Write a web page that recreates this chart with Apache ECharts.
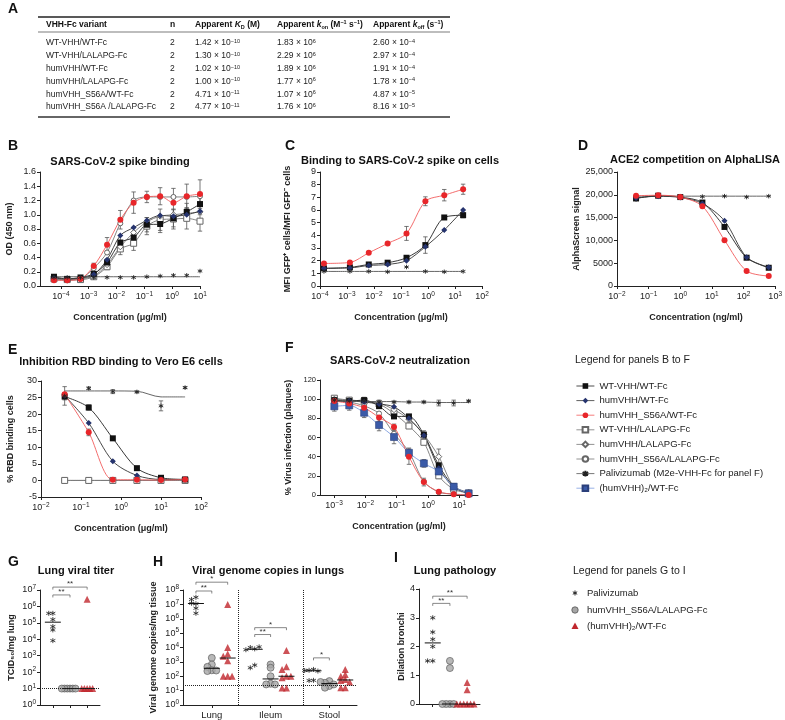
<!DOCTYPE html>
<html>
<head>
<meta charset="utf-8">
<script src="https://cdn.jsdelivr.net/npm/echarts@6/dist/echarts.min.js"></script>
<style>
html,body{margin:0;padding:0;background:#fff}
#main{width:785px;height:720px}
</style>
</head>
<body>
<div id="main"></div>
<script>
//===== A: 动力学表格 =====
var tblVariant = ['WT-VHH/WT-Fc', 'WT-VHH/LALAPG-Fc', 'humVHH/WT-Fc', 'humVHH/LALAPG-Fc', 'humVHH_S56A/WT-Fc', 'humVHH_S56A /LALAPG-Fc'];
var tblN = [2, 2, 2, 2, 2, 2];
var tblKd = [1.42e-10, 1.30e-10, 1.02e-10, 1.00e-10, 4.71e-11, 4.77e-11];
var tblKon = [1.83e6, 2.29e6, 1.89e6, 1.77e6, 1.07e6, 1.76e6];
var tblKoff = [2.60e-4, 2.97e-4, 1.91e-4, 1.78e-4, 4.87e-5, 8.16e-5];

//===== B: spike binding (OD) =====
var concB = [0.0000565, 0.000169, 0.000508, 0.00152, 0.00457, 0.0137, 0.0412, 0.123, 0.37, 1.11, 3.33, 10];
var bWtWt = [0.13, 0.10, 0.12, 0.17, 0.33, 0.61, 0.68, 0.86, 0.87, 0.95, 1.04, 1.15];
var bHumWt = [0.11, 0.10, 0.11, 0.16, 0.37, 0.71, 0.82, 0.92, 0.99, 0.98, 1.00, 1.05];
var bS56aWt = [0.08, 0.08, 0.10, 0.28, 0.58, 0.93, 1.17, 1.25, 1.26, 1.17, 1.26, 1.29];
var bWtLal = [0.10, 0.09, 0.09, 0.13, 0.27, 0.52, 0.60, 0.84, 0.93, 0.94, 0.95, 0.91];
var bHumLal = [0.10, 0.09, 0.10, 0.14, 0.30, 0.55, 0.75, 0.90, 0.98, 1.00, 1.02, 1.04];
var bS56aLal = [0.09, 0.08, 0.10, 0.25, 0.47, 0.88, 1.20, 1.25, 1.25, 1.25, 1.25, 1.26];
var bPali = [0.12, 0.12, 0.12, 0.12, 0.12, 0.12, 0.12, 0.13, 0.14, 0.15, 0.15, 0.21];
var bPaliFit = [0.13, 0.13, 0.13, 0.13, 0.13, 0.13, 0.13, 0.13, 0.13, 0.13, 0.13, 0.13];
var bErrS56a = [0.01, 0.01, 0.02, 0.04, 0.10, 0.13, 0.15, 0.08, 0.12, 0.20, 0.17, 0.20];
var bErrWtWt = [0.01, 0.01, 0.02, 0.03, 0.05, 0.10, 0.08, 0.10, 0.12, 0.12, 0.12, 0.15];
var bErrWtLal = [0.01, 0.01, 0.02, 0.03, 0.04, 0.08, 0.10, 0.12, 0.15, 0.14, 0.15, 0.14];

//===== C: binding on cells =====
var concC = [0.00014, 0.00128, 0.0064, 0.032, 0.16, 0.8, 4, 20];
var cWtWt = [1.39, 1.47, 1.70, 1.84, 2.23, 3.23, 5.41, 5.59];
var cHumWt = [1.40, 1.43, 1.62, 1.70, 2.00, 3.10, 4.42, 6.00];
var cS56aWt = [1.78, 1.86, 2.62, 3.36, 4.15, 6.69, 7.17, 7.64];
var cPali = [1.15, 1.15, 1.15, 1.12, 1.50, 1.15, 1.12, 1.15];
var cPaliFit = [1.15, 1.15, 1.15, 1.15, 1.15, 1.15, 1.15, 1.15];
var cErrS56a = [0.08, 0.06, 0.08, 0.08, 0.55, 0.35, 0.45, 0.40];
var cErrWtWt = [0.05, 0.05, 0.06, 0.06, 0.10, 0.65, 0.10, 0.20];

//===== D: ACE2 competition =====
var concD = [0.04, 0.2, 1, 5, 25, 125, 625];
var dWtWt = [19200, 19800, 19500, 18300, 12950, 6200, 4000];
var dHumWt = [19300, 19700, 19400, 18100, 14300, 6300, 4100];
var dS56aWt = [19800, 19900, 19500, 17500, 10050, 3280, 2190];
var dPali = [19000, 19600, 19700, 19600, 19700, 19500, 19700];
var dPaliFit = [19700, 19700, 19700, 19700, 19700, 19700, 19700];

//===== E: RBD binding to Vero E6 =====
var concE = [0.039, 0.156, 0.625, 2.5, 10, 40];
var eWtWt = [25.3, 22.0, 12.7, 3.7, 0.8, 0.3];
var eHumWt = [25.6, 17.3, 5.8, 1.5, 0.3, 0.3];
var eS56aWt = [26.0, 14.5, 0.2, 0.2, 0.1, 0.3];
var eWtLal = [0, 0, 0, 0, 0, 0];
var eS56aLal = [0, 0, 0, 0, 0, 0];
var ePali = [25.5, 27.8, 26.8, 26.7, 22.5, 28.0];
var ePaliFit = [27, 27, 27, 26.9, 25.2, 25.2];
var eErrPali = [2.8, 0.4, 0.6, 0.3, 1.5, 0.3];
var eErrWtWt = [1.0, 0.8, 0.4, 0.3, 0.2, 0.2];
var eErrS56a = [0.5, 1.0, 0.1, 0.1, 0.1, 0.1];

//===== F: neutralization =====
var concF = [0.00102, 0.00305, 0.00914, 0.0274, 0.0823, 0.247, 0.741, 2.22, 6.67, 20];
var fWtWt = [99, 98, 99, 92.7, 82, 82, 63, 31, 9, 1.5];
var fHumWt = [98, 98, 97, 95, 92, 80, 62, 28, 8, 2];
var fS56aWt = [98, 95.5, 91, 81, 71, 40, 13.5, 3.5, 0.7, 0];
var fWtLal = [101, 99, 98, 95, 85, 72, 55, 20, 6, 2];
var fHumLal = [100, 99, 98, 96, 89, 79, 63, 40, 9, 3];
var fS56aLal = [98, 97, 93, 85, 64, 45, 14, 3, 1, 0];
var fPali = [99, 98, 98, 97, 97, 97, 97, 96, 96, 98];
var fPaliFit = [98, 98, 97.5, 97.5, 97.5, 97, 97, 96.5, 96.5, 96.5];
var fHum2 = [92.5, 93.5, 85.8, 73, 60.5, 44, 33, 24.5, 8.7, 1.7];
var fErrS56a = [3, 3, 4, 4, 3, 8, 4, 1, 1, 0.5];
var fErrHum2 = [5, 5, 5, 6, 7, 5, 4, 5, 3, 1];
var fErrHumLal = [2, 2, 4, 3, 3, 3, 4, 8, 3, 1];
var fErrPali = [1, 1, 1, 1, 1, 1, 1, 3, 3, 1];

//===== G: lung viral titer =====
var gPali = [380000, 380000, 160000, 60000, 37000, 8300];
var gS56aLal = [10, 10, 10, 10, 10, 10];
var gHum2 = [2700000, 10, 10, 10, 10, 10];
var gLod = 10;

//===== H: viral genome copies =====
var tissues = ['Lung', 'Ileum', 'Stool'];
var hLungPali = [3.1e7, 2.2e7, 1.1e7, 1.2e7, 5.4e6, 2.4e6];
var hLungS56aLal = [1900, 660, 450, 260, 230, 250];
var hLungHum2 = [1e7, 1e4, 3500, 2500, 1200, 100, 100, 100];
var hIleumPali = [8000, 10000, 11000, 7000, 590, 390];
var hIleumS56aLal = [660, 390, 100, 30, 27, 27];
var hIleumHum2 = [6300, 450, 300, 100, 80, 100, 15, 15];
var hStoolPali = [300, 260, 230, 250, 52, 50];
var hStoolS56aLal = [46, 35, 21, 16, 27, 40];
var hStoolHum2 = [300, 130, 100, 60, 50, 40, 16, 16];
var hLod = 25;

//===== I: lung pathology =====
var iPali = [3, 2.5, 2.25, 2, 1.5, 1.5];
var iS56aLal = [1.5, 1.25, 0, 0, 0, 0];
var iHum2 = [0.75, 0.5, 0, 0, 0, 0, 0, 0];

var FONT = '"Liberation Sans", Arial, Helvetica, sans-serif';
var STAR = 'path://M5,0L5,10M0.67,2.5L9.33,7.5M0.67,7.5L9.33,2.5';

var NAMES = {
	wtwt: 'WT-VHH/WT-Fc',
	humwt: 'humVHH/WT-Fc',
	s56awt: 'humVHH_S56A/WT-Fc',
	wtlal: 'WT-VHH/LALAPG-Fc',
	humlal: 'humVHH/LALAPG-Fc',
	s56alal: 'humVHH_S56A/LALAPG-Fc',
	pali: 'Palivizumab (M2e-VHH-Fc for panel F)',
	hum2: '(humVHH)₂/WT-Fc'
};
var ST = {
	wtwt: {symbol: 'rect', size: 6, fill: '#111', border: '#111', bw: 0, line: '#222'},
	humwt: {symbol: 'diamond', size: 6, fill: '#26346e', border: '#26346e', bw: 0, line: '#333'},
	s56awt: {symbol: 'circle', size: 6, fill: '#e8262a', border: '#e8262a', bw: 0, line: '#f25c5c'},
	wtlal: {symbol: 'rect', size: 6, fill: '#fff', border: '#666', bw: 1, line: '#777'},
	humlal: {symbol: 'diamond', size: 6, fill: '#fff', border: '#666', bw: 1, line: '#777'},
	s56alal: {symbol: 'circle', size: 5, fill: '#fff', border: '#666', bw: 1, line: '#777'},
	pali: {symbol: STAR, size: 4.5, fill: '#222', border: '#222', bw: 0.9, line: '#555'},
	hum2: {symbol: 'rect', size: 7, fill: '#3a5aa8', border: '#2a3f7a', bw: 0.6, line: '#7e9ddf'}
};

function pow10(n) {
	return '{b|10}{s|' + (n < 0 ? '−' + (-n) : n) + '}';
}
var powRich = {
	b: {fontSize: 9, lineHeight: 12, color: '#222', fontFamily: FONT},
	s: {fontSize: 6.5, lineHeight: 7, verticalAlign: 'top', color: '#222', fontFamily: FONT}
};

//曲线 + 点
function lineSeries(gi, key, conc, vals, hideLine) {
	var st = ST[key];
	return {
		type: 'line', name: NAMES[key], xAxisIndex: gi, yAxisIndex: gi,
		data: conc.map(function (c, i) { return [Math.log10(c), vals[i]]; }),
		smooth: 0.3, showAllSymbol: true, symbol: st.symbol, symbolSize: st.size,
		lineStyle: {color: st.line, width: 0.9, opacity: hideLine ? 0 : 1},
		itemStyle: {color: st.fill, borderColor: st.border, borderWidth: st.bw},
		silent: true
	};
}
function fitLine(gi, conc, vals, color) {
	return {
		type: 'line', xAxisIndex: gi, yAxisIndex: gi, symbol: 'none', silent: true,
		data: conc.map(function (c, i) { return [Math.log10(c), vals[i]]; }),
		smooth: 0.3, lineStyle: {color: color, width: 0.9}
	};
}
//误差线
function errSeries(gi, conc, vals, errs) {
	return {
		type: 'custom', xAxisIndex: gi, yAxisIndex: gi, silent: true, z: 1,
		encode: {x: 0, y: [1, 2]},
		data: conc.map(function (c, i) { return [Math.log10(c), vals[i] - errs[i], vals[i] + errs[i]]; }),
		renderItem: function (params, api) {
			var top = api.coord([api.value(0), api.value(2)]);
			var bot = api.coord([api.value(0), api.value(1)]);
			var w = 2.2, st = {stroke: '#555', lineWidth: 0.8};
			return {type: 'group', children: [
				{type: 'line', shape: {x1: top[0], y1: top[1], x2: bot[0], y2: bot[1]}, style: st},
				{type: 'line', shape: {x1: top[0] - w, y1: top[1], x2: top[0] + w, y2: top[1]}, style: st},
				{type: 'line', shape: {x1: bot[0] - w, y1: bot[1], x2: bot[0] + w, y2: bot[1]}, style: st}
			]};
		}
	};
}

//散点抖动(简单蜂群)
function swarm(vals, center, step, tol, isLog) {
	var placed = [];
	return vals.map(function (v) {
		var key = isLog ? Math.log10(v) : v;
		var k = placed.filter(function (p) { return Math.abs(p - key) < tol; }).length;
		placed.push(key);
		var off = k === 0 ? 0 : (k % 2 ? -1 : 1) * Math.ceil(k / 2);
		return [center + off * step, v];
	});
}
function median(vals) {
	var s = vals.slice().sort(function (a, b) { return a - b; });
	var m = Math.floor(s.length / 2);
	return s.length % 2 ? s[m] : (s[m - 1] + s[m]) / 2;
}
var DOT = {
	pali: {symbol: STAR, symbolSize: 5, itemStyle: {color: '#222', borderColor: '#222', borderWidth: 1}},
	s56alal: {symbol: 'circle', symbolSize: 7, itemStyle: {color: '#a6a6a6', borderColor: '#555', borderWidth: 0.8}},
	hum2: {symbol: 'triangle', symbolSize: 7, itemStyle: {color: '#c0272d'}}
};
function dotSeries(gi, name, kind, pts) {
	var d = DOT[kind];
	return {type: 'scatter', name: name, xAxisIndex: gi, yAxisIndex: gi, silent: true, z: 3,
		symbol: d.symbol, symbolSize: d.symbolSize, itemStyle: d.itemStyle, data: pts};
}
function medSeries(gi, items) {
	return {
		type: 'custom', xAxisIndex: gi, yAxisIndex: gi, silent: true, z: 4,
		encode: {x: 0, y: 1}, data: items,
		renderItem: function (params, api) {
			var p = api.coord([api.value(0), api.value(1)]);
			return {type: 'line', shape: {x1: p[0] - 8, y1: p[1], x2: p[0] + 8, y2: p[1]}, style: {stroke: '#111', lineWidth: 1}};
		}
	};
}
function bracketSeries(gi, items, labels) {
	return {
		type: 'custom', xAxisIndex: gi, yAxisIndex: gi, silent: true, z: 5,
		encode: {x: [0, 1], y: 2}, data: items,
		renderItem: function (params, api) {
			var a = api.coord([api.value(0), api.value(2)]);
			var b = api.coord([api.value(1), api.value(2)]);
			var st = {stroke: '#555', lineWidth: 0.7, fill: null};
			return {type: 'group', children: [
				{type: 'polyline', shape: {points: [[a[0], a[1] + 2.5], [a[0], a[1]], [b[0], b[1]], [b[0], b[1] + 2.5]]}, style: st},
				{type: 'text', x: (a[0] + b[0]) / 2, y: a[1] + 1, style: {text: labels[params.dataIndex], fill: '#333', font: '8px ' + FONT, align: 'center', verticalAlign: 'bottom', textAlign: 'center', textVerticalAlign: 'bottom'}}
			]};
		}
	};
}

//坐标轴
var axisLineSt = {show: true, onZero: false, lineStyle: {color: '#222', width: 1}};
var nameSt = {fontWeight: 'bold', fontSize: 9, color: '#222', fontFamily: FONT};
function concAxis(gi, min, max, ticks, name) {
	return {
		type: 'value', gridIndex: gi, min: min, max: max,
		name: name, nameLocation: 'middle', nameGap: 27, nameTextStyle: nameSt,
		axisLine: axisLineSt,
		axisTick: {show: true, customValues: ticks, length: 3, lineStyle: {color: '#222'}},
		axisLabel: {customValues: ticks, margin: 5, rich: powRich, formatter: function (v) { return pow10(Math.round(v)); }},
		splitLine: {show: false}
	};
}
function valAxis(gi, min, max, interval, name, gap, fmt, fs) {
	return {
		type: 'value', gridIndex: gi, min: min, max: max, interval: interval,
		name: name, nameLocation: 'middle', nameGap: gap, nameTextStyle: nameSt,
		axisLine: axisLineSt,
		axisTick: {show: true, length: 3, lineStyle: {color: '#222'}},
		axisLabel: {fontSize: fs || 9, color: '#222', fontFamily: FONT, margin: 4, formatter: fmt},
		splitLine: {show: false}
	};
}
function logAxis(gi, max, name, gap) {
	return {
		type: 'log', logBase: 10, gridIndex: gi, min: 1, max: max,
		name: name, nameLocation: 'middle', nameGap: gap, nameTextStyle: nameSt,
		axisLine: axisLineSt,
		axisTick: {show: true, length: 3, lineStyle: {color: '#222'}},
		axisLabel: {margin: 4, rich: powRich, formatter: function (v) { return pow10(Math.round(Math.log10(v))); }},
		splitLine: {show: false}
	};
}
function catAxis(gi, min, max, ticks, labels) {
	return {
		type: 'value', gridIndex: gi, min: min, max: max,
		axisLine: axisLineSt,
		axisTick: {show: true, customValues: ticks, length: 3, lineStyle: {color: '#222'}},
		axisLabel: {show: !!labels, customValues: ticks, fontSize: 9.5, color: '#222', fontFamily: FONT, margin: 5,
			formatter: function (v) { return labels ? labels[Math.round(v)] : ''; }},
		splitLine: {show: false}
	};
}

var grids = [
	{left: 40, top: 172, width: 160, height: 114},  // B
	{left: 320, top: 172, width: 162, height: 114}, // C
	{left: 617, top: 172, width: 161, height: 114}, // D
	{left: 41, top: 381, width: 160, height: 116},  // E
	{left: 320, top: 380, width: 158, height: 115}, // F
	{left: 40, top: 590, width: 60, height: 115},   // G
	{left: 183, top: 590, width: 174, height: 115}, // H
	{left: 419, top: 589, width: 61, height: 115}   // I
];

var xAxes = [
	concAxis(0, -4.75, 1, [-4, -3, -2, -1, 0, 1], 'Concentration (μg/ml)'),
	concAxis(1, -4, 2, [-4, -3, -2, -1, 0, 1, 2], 'Concentration (μg/ml)'),
	concAxis(2, -2, 3, [-2, -1, 0, 1, 2, 3], 'Concentration (ng/ml)'),
	concAxis(3, -2, 2, [-2, -1, 0, 1, 2], 'Concentration (μg/ml)'),
	concAxis(4, -3.45, 1.6, [-3, -2, -1, 0, 1], 'Concentration (μg/ml)'),
	catAxis(5, 0.25, 3.75, [1, 2, 3], null),
	catAxis(6, -0.49, 2.47, [0, 1, 2], tissues),
	catAxis(7, 0.2, 3.75, [1, 2, 3], null)
];
var yAxes = [
	valAxis(0, 0, 1.6, 0.2, 'OD (450 nm)', 26, function (v) { return v.toFixed(1); }),
	valAxis(1, 0, 9, 1, 'MFI GFP⁺ cells/MFI GFP⁻ cells', 28),
	valAxis(2, 0, 25000, 5000, 'AlphaScreen signal', 36, function (v) { return v >= 10000 ? String(v).replace(/\B(?=(\d{3})+(?!\d))/g, ',') : v; }),
	valAxis(3, -5, 30, 5, '% RBD binding cells', 26),
	valAxis(4, 0, 120, 20, '% Virus infection (plaques)', 27, null, 7.5),
	logAxis(5, 1e7, 'TCID₅₀/mg lung', 24),
	logAxis(6, 1e8, 'Viral genome copies/mg tissue', 25),
	valAxis(7, 0, 4, 1, 'Dilation bronchi', 13)
];

var series = [];
// B
series.push(
	lineSeries(0, 'wtlal', concB, bWtLal), lineSeries(0, 'humlal', concB, bHumLal), lineSeries(0, 's56alal', concB, bS56aLal),
	lineSeries(0, 'wtwt', concB, bWtWt), lineSeries(0, 'humwt', concB, bHumWt), lineSeries(0, 's56awt', concB, bS56aWt),
	fitLine(0, concB, bPaliFit, ST.pali.line), lineSeries(0, 'pali', concB, bPali, true),
	errSeries(0, concB, bS56aWt, bErrS56a), errSeries(0, concB, bWtWt, bErrWtWt), errSeries(0, concB, bWtLal, bErrWtLal)
);
// C
series.push(
	lineSeries(1, 'wtwt', concC, cWtWt), lineSeries(1, 'humwt', concC, cHumWt), lineSeries(1, 's56awt', concC, cS56aWt),
	fitLine(1, concC, cPaliFit, ST.pali.line), lineSeries(1, 'pali', concC, cPali, true),
	errSeries(1, concC, cS56aWt, cErrS56a), errSeries(1, concC, cWtWt, cErrWtWt)
);
// D
series.push(
	fitLine(2, concD, dPaliFit, ST.pali.line), lineSeries(2, 'pali', concD, dPali, true),
	lineSeries(2, 'wtwt', concD, dWtWt), lineSeries(2, 'humwt', concD, dHumWt), lineSeries(2, 's56awt', concD, dS56aWt)
);
// E
series.push(
	lineSeries(3, 's56alal', concE, eS56aLal), lineSeries(3, 'wtlal', concE, eWtLal),
	lineSeries(3, 'wtwt', concE, eWtWt), lineSeries(3, 'humwt', concE, eHumWt), lineSeries(3, 's56awt', concE, eS56aWt),
	fitLine(3, concE, ePaliFit, ST.pali.line), lineSeries(3, 'pali', concE, ePali, true),
	errSeries(3, concE, ePali, eErrPali), errSeries(3, concE, eWtWt, eErrWtWt), errSeries(3, concE, eS56aWt, eErrS56a)
);
// F
series.push(
	lineSeries(4, 'wtlal', concF, fWtLal), lineSeries(4, 'humlal', concF, fHumLal), lineSeries(4, 's56alal', concF, fS56aLal),
	lineSeries(4, 'wtwt', concF, fWtWt), lineSeries(4, 'humwt', concF, fHumWt), lineSeries(4, 'hum2', concF, fHum2),
	lineSeries(4, 's56awt', concF, fS56aWt),
	fitLine(4, concF, fPaliFit, ST.pali.line), lineSeries(4, 'pali', concF, fPali, true),
	errSeries(4, concF, fS56aWt, fErrS56a), errSeries(4, concF, fHum2, fErrHum2),
	errSeries(4, concF, fHumLal, fErrHumLal), errSeries(4, concF, fPali, fErrPali)
);
// G
var gDots = dotSeries(5, 'Palivizumab', 'pali', swarm(gPali, 1, 0.24, 0.2, true));
gDots.markLine = {silent: true, symbol: 'none', label: {show: false}, lineStyle: {type: 'dotted', color: '#222', width: 1}, data: [{yAxis: gLod}]};
series.push(
	gDots,
	dotSeries(5, 'humVHH_S56A/LALAPG-Fc', 's56alal', swarm(gS56aLal, 2, 0.16, 0.2, true)),
	dotSeries(5, '(humVHH)₂/WT-Fc', 'hum2', swarm(gHum2, 3, 0.16, 0.2, true)),
	medSeries(5, [[1, median(gPali)], [2, median(gS56aLal)], [3, median(gHum2)]]),
	bracketSeries(5, [[1, 2, 5e6], [1, 3, 1.5e7]], ['**', '**'])
);
// H
var hSets = [[hLungPali, hLungS56aLal, hLungHum2], [hIleumPali, hIleumS56aLal, hIleumHum2], [hStoolPali, hStoolS56aLal, hStoolHum2]];
var hKinds = ['pali', 's56alal', 'hum2'];
var hOff = [-0.27, 0, 0.27];
var hMed = [];
hSets.forEach(function (set, t) {
	set.forEach(function (vals, k) {
		var s = dotSeries(6, null, hKinds[k], swarm(vals, t + hOff[k], 0.075, 0.2, true));
		if (t === 0 && k === 0) {
			s.markLine = {silent: true, symbol: 'none', label: {show: false}, lineStyle: {type: 'dotted', color: '#222', width: 1},
				data: [{yAxis: hLod}, {xAxis: 0.45}, {xAxis: 1.55}]};
		}
		series.push(s);
		hMed.push([t + hOff[k], median(vals)]);
	});
});
series.push(
	medSeries(6, hMed),
	bracketSeries(6, [[-0.27, 0, 8.5e7], [-0.27, 0.27, 3.5e8], [0.73, 1, 8e4], [0.73, 1.27, 2.4e5], [1.73, 2, 1.9e3]], ['**', '*', '**', '*', '*'])
);
// I
series.push(
	dotSeries(7, null, 'pali', swarm(iPali, 1, 0.3, 0.2, false)),
	dotSeries(7, null, 's56alal', swarm(iS56aLal, 2, 0.22, 0.2, false)),
	dotSeries(7, null, 'hum2', swarm(iHum2, 3, 0.2, 0.2, false)),
	medSeries(7, [[1, median(iPali)], [2, median(iS56aLal)], [3, median(iHum2)]]),
	bracketSeries(7, [[1, 2, 3.5], [1, 3, 3.75]], ['**', '**'])
);

//===== 文字、表格、图例 =====
var g = [];
function txt(x, y, text, font, align, extra) {
	var st = {text: text, fill: '#111', font: font + ' ' + FONT, align: align || 'left', textAlign: align || 'left', verticalAlign: 'middle', textVerticalAlign: 'middle'};
	if (extra) { for (var k in extra) st[k] = extra[k]; }
	return {type: 'text', x: x, y: y, silent: true, style: st};
}
function hline(x1, x2, y, w, c) {
	return {type: 'line', silent: true, shape: {x1: x1, y1: y, x2: x2, y2: y}, style: {stroke: c || '#222', lineWidth: w}};
}
// 面板字母
[['A', 8, 9], ['B', 8, 146], ['C', 285, 146], ['D', 578, 146], ['E', 8, 350], ['F', 285, 348], ['G', 8, 562], ['H', 153, 562], ['I', 394, 558]].forEach(function (p) {
	g.push(txt(p[1], p[2], p[0], 'bold 14px'));
});
// 标题
g.push(
	txt(120, 162, 'SARS-CoV-2 spike binding', 'bold 11px', 'center'),
	txt(400, 161, 'Binding to SARS-CoV-2 spike on cells', 'bold 11px', 'center'),
	txt(695, 160, 'ACE2 competition on AlphaLISA', 'bold 11px', 'center'),
	txt(121, 362, 'Inhibition RBD binding to Vero E6 cells', 'bold 11px', 'center'),
	txt(400, 361, 'SARS-CoV-2 neutralization', 'bold 11px', 'center'),
	txt(76, 571, 'Lung viral titer', 'bold 11px', 'center'),
	txt(268, 571, 'Viral genome copies in lungs', 'bold 11px', 'center'),
	txt(455, 571, 'Lung pathology', 'bold 11px', 'center')
);
// 表格
var colX = [46, 170, 195, 277, 373];
var hdrRich = {
	it: {fontStyle: 'italic', fontWeight: 'bold', fontSize: 8.5, lineHeight: 11, fontFamily: FONT},
	sb: {fontWeight: 'bold', fontSize: 5.5, lineHeight: 5, verticalAlign: 'bottom', fontFamily: FONT},
	sp: {fontWeight: 'bold', fontSize: 5.5, lineHeight: 5, verticalAlign: 'top', fontFamily: FONT}
};
var valRich = {p: {fontSize: 5.5, lineHeight: 5, verticalAlign: 'top', fontFamily: FONT, fill: '#222'}};
function sci(v) {
	var s = v.toExponential(2).split('e');
	var e = parseInt(s[1], 10);
	return s[0] + ' × 10{p|' + (e < 0 ? '−' + (-e) : e) + '}';
}
g.push(hline(38, 450, 17, 1.6), hline(38, 450, 32, 0.6), hline(38, 450, 117, 1.6, '#333'));
g.push(
	txt(colX[0], 25, 'VHH-Fc variant', 'bold 8.5px'),
	txt(colX[1], 25, 'n', 'bold 8.5px'),
	txt(colX[2], 25, 'Apparent {it|K}{sb|D} (M)', 'bold 8.5px', 'left', {rich: hdrRich}),
	txt(colX[3], 25, 'Apparent {it|k}{sb|on} (M{sp|−1} s{sp|−1})', 'bold 8.5px', 'left', {rich: hdrRich}),
	txt(colX[4], 25, 'Apparent {it|k}{sb|off} (s{sp|−1})', 'bold 8.5px', 'left', {rich: hdrRich})
);
tblVariant.forEach(function (name, i) {
	var y = 43 + i * 12.8;
	g.push(
		txt(colX[0], y, name, '8.5px', 'left', {fill: '#222'}),
		txt(colX[1], y, String(tblN[i]), '8.5px', 'left', {fill: '#222'}),
		txt(colX[2], y, sci(tblKd[i]), '8.5px', 'left', {fill: '#222', rich: valRich}),
		txt(colX[3], y, sci(tblKon[i]), '8.5px', 'left', {fill: '#222', rich: valRich}),
		txt(colX[4], y, sci(tblKoff[i]), '8.5px', 'left', {fill: '#222', rich: valRich})
	);
});
// 图例标题
g.push(txt(575, 360, 'Legend for panels B to F', '10.5px', 'left', {fill: '#222'}));
g.push(txt(573, 571, 'Legend for panels G to I', '10.5px', 'left', {fill: '#222'}));
// G-I 图例
var giNames = ['Palivizumab', 'humVHH_S56A/LALAPG-Fc', '(humVHH)₂/WT-Fc'];
var giY = [593, 610, 626];
var sx = 575;
g.push(
	{type: 'line', silent: true, shape: {x1: sx, y1: giY[0] - 2.5, x2: sx, y2: giY[0] + 2.5}, style: {stroke: '#222', lineWidth: 1}},
	{type: 'line', silent: true, shape: {x1: sx - 2.2, y1: giY[0] - 1.25, x2: sx + 2.2, y2: giY[0] + 1.25}, style: {stroke: '#222', lineWidth: 1}},
	{type: 'line', silent: true, shape: {x1: sx - 2.2, y1: giY[0] + 1.25, x2: sx + 2.2, y2: giY[0] - 1.25}, style: {stroke: '#222', lineWidth: 1}},
	{type: 'circle', silent: true, shape: {cx: sx, cy: giY[1], r: 3.2}, style: {fill: '#a6a6a6', stroke: '#555', lineWidth: 0.8}},
	{type: 'polygon', silent: true, shape: {points: [[sx, giY[2] - 3.5], [sx + 3.5, giY[2] + 3], [sx - 3.5, giY[2] + 3]]}, style: {fill: '#c0272d'}}
);
giNames.forEach(function (n, i) { g.push(txt(587, giY[i], n, '9.5px', 'left', {fill: '#222'})); });

var legendKeys = ['wtwt', 'humwt', 's56awt', 'wtlal', 'humlal', 's56alal', 'pali', 'hum2'];
var legendData = legendKeys.map(function (k) {
	var item = {name: NAMES[k]};
	if (k === 'pali') item.lineStyle = {color: ST.pali.line, opacity: 1, width: 0.8};
	return item;
});

var myChart = echarts.init(document.getElementById('main'), null, {renderer: 'canvas'});
var option = {
	animation: false,
	backgroundColor: '#fff',
	textStyle: {fontFamily: FONT},
	grid: grids,
	xAxis: xAxes,
	yAxis: yAxes,
	legend: {
		data: legendData, orient: 'vertical', left: 571, top: 376, itemGap: 4.6,
		itemWidth: 18, itemHeight: 7, selectedMode: false,
		lineStyle: {width: 0.8},
		textStyle: {fontSize: 9.5, color: '#222', fontFamily: FONT}
	},
	graphic: g,
	series: series
};
myChart.setOption(option);
</script>
</body>
</html>
